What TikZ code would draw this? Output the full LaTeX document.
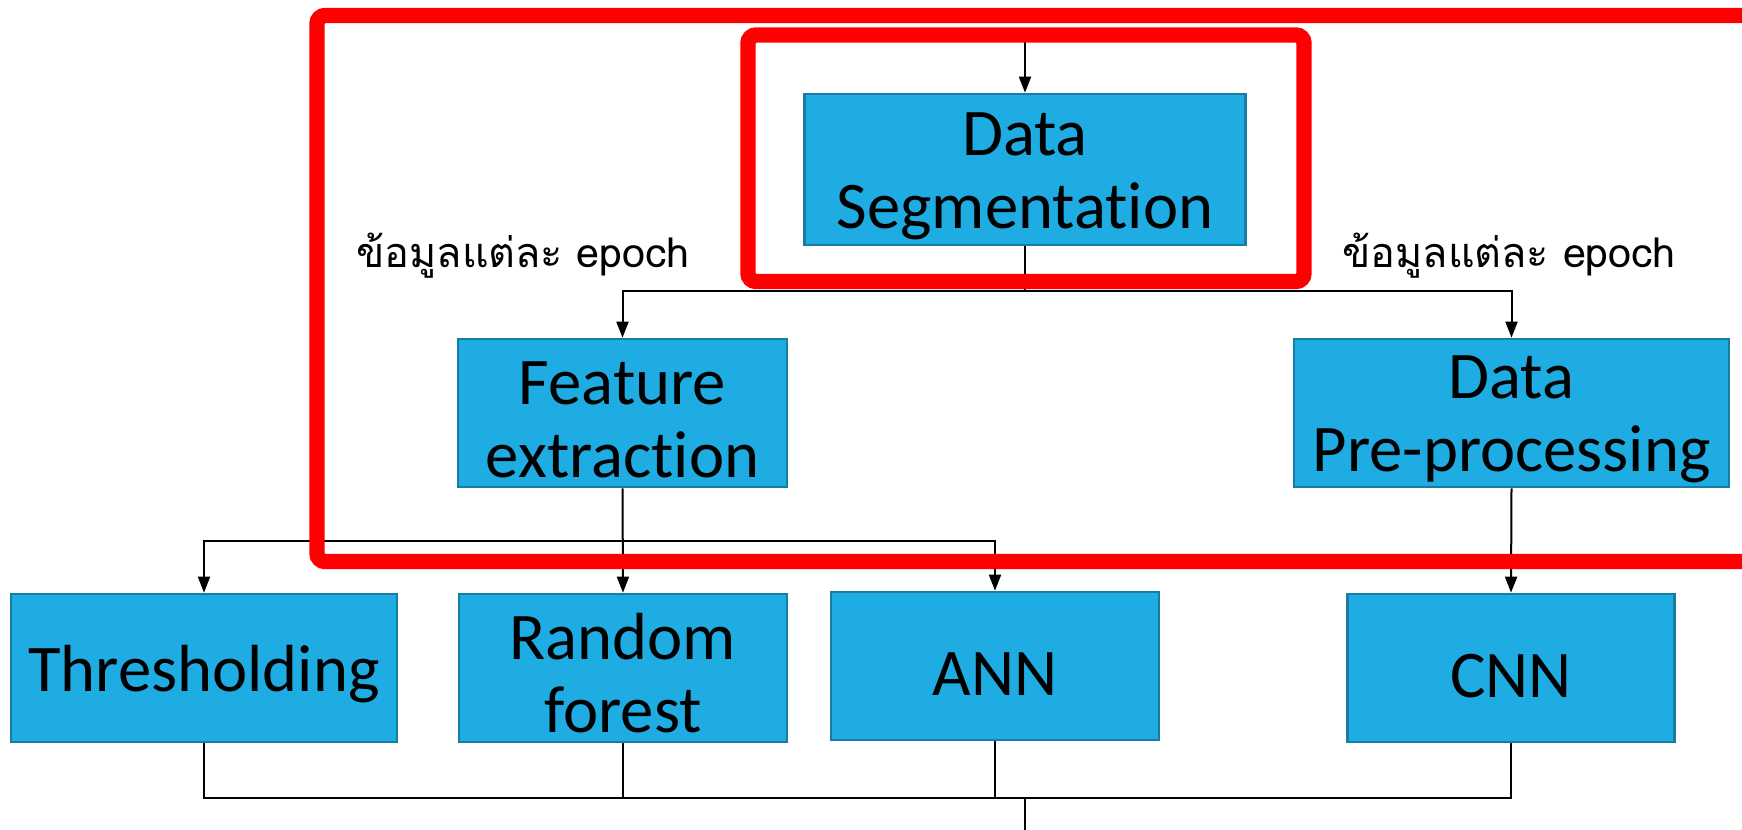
\documentclass[tikz,border=0pt]{standalone}
\usepackage{fontspec}
\setmainfont{Carlito}[Ligatures=NoCommon]
\newfontfamily\thaifont[Script=Thai]{Loma}
\usetikzlibrary{arrows.meta}
\definecolor{boxfill}{RGB}{30,172,226}
\definecolor{boxline}{RGB}{22,125,165}
\begin{document}
\begin{tikzpicture}[x=0.75pt,y=0.75pt,yscale=-1,xscale=1,
	block/.style={draw=boxline,line width=2pt,fill=boxfill,align=center,inner sep=0pt,
		font=\fontsize{50}{55}\selectfont,execute at begin node={\rule{0pt}{44pt}}},
	twoline/.style={text height=97pt},
	link/.style={line width=1.5pt,draw=black},
	arr/.style={link,-{Triangle[length=12pt,width=9pt]}},
	frame/.style={draw=red,line width=11.5pt,rounded corners=6pt},
	epochlabel/.style={anchor=base,inner sep=0pt,font=\thaifont\fontsize{31}{36}\selectfont}]
	\useasboundingbox (0,0) rectangle (1742,829);
	
	%Shape: Rectangle [Data Segmentation]
	\node[block,twoline,minimum width=441*0.75pt,minimum height=151*0.75pt] (seg) at (1025,169.5) {Data\\Segmentation};
	%Shape: Rectangle [second row]
	\node[block,twoline,minimum width=329*0.75pt,minimum height=148*0.75pt] (feat) at (622.5,413) {Feature\\extraction};
	\node[block,twoline,minimum width=435*0.75pt,minimum height=148*0.75pt] (prep) at (1511.5,413) {Data\\Pre-processing};
	%Shape: Rectangle [models]
	\node[block,minimum width=386*0.75pt,minimum height=148*0.75pt] (thr) at (204,668) {Thresholding};
	\node[block,twoline,minimum width=328*0.75pt,minimum height=148*0.75pt] (rf) at (623,668) {Random\\forest};
	\node[block,minimum width=328*0.75pt,minimum height=148*0.75pt] (ann) at (995,666) {ANN};
	\node[block,minimum width=327*0.75pt,minimum height=148*0.75pt] (cnn) at (1511,668) {CNN};
	
	% Text Node
	\node[epochlabel] (lblL) at (523,267) {ข้อมูลแต่ละ epoch};
	% Text Node
	\node[epochlabel] (lblR) at (1509,267) {ข้อมูลแต่ละ epoch};
	
	%Straight Lines
	\coordinate (in) at (1025,30);
	\coordinate (split1) at (1025,291);
	\coordinate (split2) at (623,541);
	\coordinate (merge) at (1025,798);
	\coordinate (out) at (1025,840);
	\draw[arr] (in) -- (seg.north);
	\draw[link] (seg.south) -- (split1);
	\draw[arr] (split1) -| (feat.north);
	\draw[arr] (split1) -| (prep.north);
	\draw[arr] (feat.south) -- (rf.north);
	\draw[arr] (split2) -| (thr.north);
	\draw[arr] (split2) -| (ann.north);
	\draw[arr] (prep.south) -- (cnn.north);
	\draw[link] (thr.south) |- (merge);
	\draw[link] (rf.south) -- (rf.south |- merge);
	\draw[link] (ann.south) -- (ann.south |- merge);
	\draw[link] (cnn.south) |- (merge);
	\draw[link] (merge) -- (out);
	
	%Shape: Rectangle [red frames]
	\draw[frame] (317,15.5) rectangle (1775,561.5);
	\draw[frame] (748,35) rectangle (1304,281.5);
	
\end{tikzpicture}
\end{document}
